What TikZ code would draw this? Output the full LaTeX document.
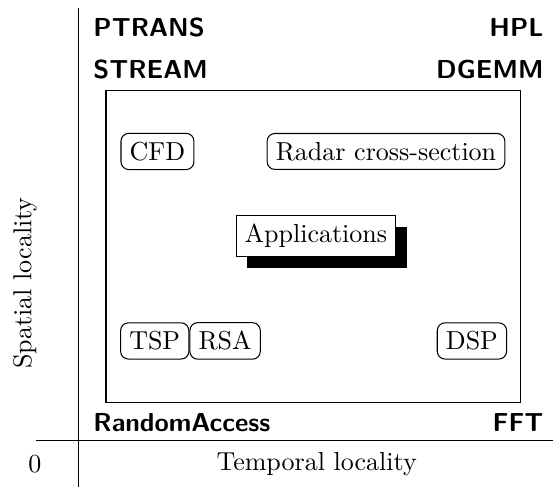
\documentclass[tikz,border=0pt]{standalone}
\usetikzlibrary{positioning,shadows}

\begin{document}
\begin{tikzpicture}[
    app/.style={draw, rectangle, rounded corners=3pt},
    appmain/.style={draw, rectangle, fill=white,
                    drop shadow={shadow xshift=4.2pt, shadow yshift=-4.6pt,
                                 opacity=1, fill=black}},
    bench/.style={font=\sffamily\bfseries, inner sep=0pt},
    axlbl/.style={inner sep=0pt},
  ]
  \useasboundingbox (0,0) rectangle (7.477,6.584);

  %% ================================================================
  %% Axes
  %% ================================================================
  \coordinate (ytop)   at (1.055, 6.476);
  \coordinate (ybot)   at (1.055, 0);
  \coordinate (xleft)  at (0.487, 0.622);
  \coordinate (xright) at (7.477, 0.622);
  \draw (ytop) -- (ybot);
  \draw (xleft) -- (xright);

  \node[axlbl] (zero) at (0.473, 0.311) {0};
  \node[axlbl, anchor=base] (tloc) at (4.282, 0.216) {Temporal locality};
  \node[axlbl, rotate=90] (sloc) at (0.338, 2.758) {Spatial locality};

  %% ================================================================
  %% Benchmarks in the corners
  %% ================================================================
  \node[bench, anchor=base west] (ptrans) at (1.257, 6.088) {PTRANS};
  \node[bench, anchor=base west] (stream) at (1.257, 5.526) {STREAM};
  \node[bench, anchor=base east] (hpl)    at (7.355, 6.088) {HPL};
  \node[bench, anchor=base east] (dgemm)  at (7.355, 5.526) {DGEMM};
  \node[bench, anchor=base west] (ra)     at (1.257, 0.748) {RandomAccess};
  \node[bench, anchor=base east] (fft)    at (7.355, 0.748) {FFT};

  %% ================================================================
  %% Applications
  %% ================================================================
  \draw (1.433, 1.136) rectangle (7.044, 5.354);

  \node[app] (cfd)   at (2.129, 4.536) {CFD};
  \node[app] (radar) at (5.219, 4.536) {Radar cross-section};
  \node[appmain] (apps) at (4.272, 3.394) {Applications};
  \node[app] (tsp)   at (2.092, 1.974) {TSP};
  \node[app, right=0pt of tsp] (rsa) {RSA};
  \node[app] (dsp)   at (6.381, 1.974) {DSP};

\end{tikzpicture}
\end{document}
